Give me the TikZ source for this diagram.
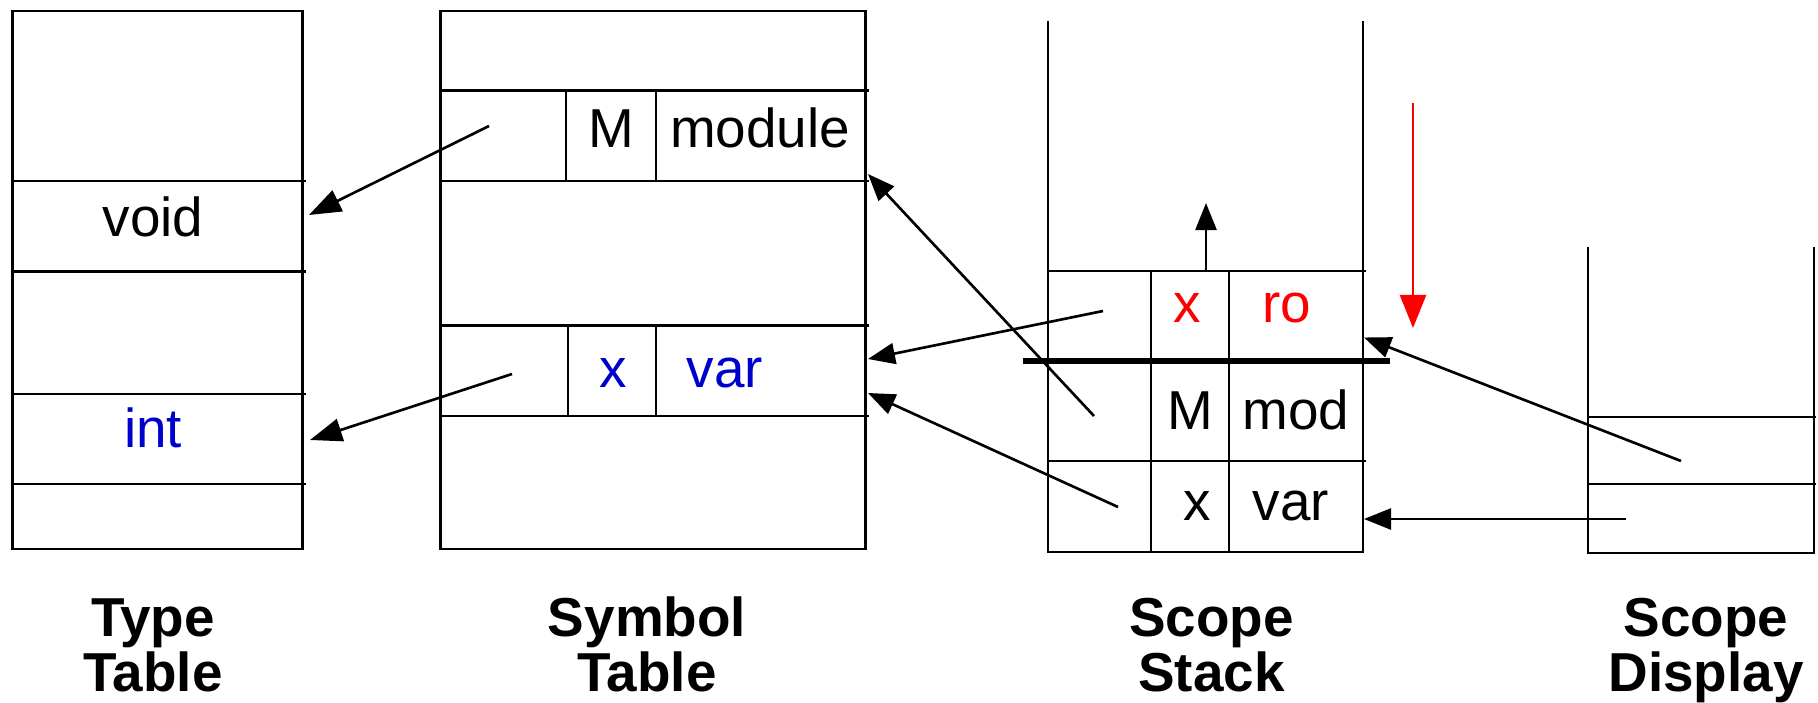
\documentclass[tikz,border=0pt]{standalone}
\usepackage{fontspec}
\setmainfont{Liberation Sans}
\usetikzlibrary{arrows.meta}
\definecolor{mblue}{RGB}{0,0,204}
\definecolor{mred}{RGB}{255,0,0}
\tikzset{
  tbl/.style={line width=0.65pt},
  thickbar/.style={line width=1.9pt},
  txt/.style={inner sep=0pt, anchor=base, font=\fontsize{15.6}{18.7}\selectfont},
  lbl/.style={inner sep=0pt, anchor=base, align=center, font=\bfseries\fontsize{15.6}{15.65}\selectfont},
  bigptr/.style={line width=0.75pt, -{Triangle[length=0.32cm,width=0.23cm]}},
  ptr/.style={line width=0.75pt, -{Triangle[length=0.27cm,width=0.21cm]}},
  redptr/.style={line width=0.65pt, mred, -{Triangle[length=0.33cm,width=0.26cm]}}
}
\begin{document}
\begin{tikzpicture}[x=0.01cm,y=-0.01cm]
\useasboundingbox (0,0) rectangle (1818,703);

% ---------- Type Table ----------
\draw[tbl] (12.5,10.7) rectangle (302.5,549);
\foreach \yy in {181,271.4,394,484} \draw[tbl] (12.5,\yy) -- (306,\yy);
\node[txt] (tvoid) at (153,236) {void};
\node[txt, text=mblue] (tint) at (153,447.5) {int};

% ---------- Symbol Table ----------
\draw[tbl] (440.5,10.7) rectangle (865.5,549);
\foreach \yy in {90.4,181,325.5,416} \draw[tbl] (440.5,\yy) -- (869,\yy);
\draw[tbl] (566,90.4) -- (566,181);
\draw[tbl] (656,90.4) -- (656,181);
\draw[tbl] (568,325.5) -- (568,416);
\draw[tbl] (656,325.5) -- (656,416);
\node[txt] (sM) at (611,147) {M};
\node[txt] (smodule) at (760,147) {module};
\node[txt, text=mblue] (sx) at (613,387.5) {x};
\node[txt, text=mblue] (svar) at (725,387.5) {var};

% ---------- Scope Stack ----------
\draw[tbl] (1048.3,21) -- (1048.3,552) -- (1363.3,552) -- (1363.3,21);
\draw[tbl] (1048.3,271) -- (1366,271);
\draw[tbl] (1048.3,461) -- (1366,461);
\draw[tbl] (1151.3,271) -- (1151.3,552);
\draw[tbl] (1229.3,271) -- (1229.3,552);
\draw[thickbar] (1022.7,361) -- (1390,361);
\node[txt, text=mred] (kx) at (1187,322.7) {x};
\node[txt, text=mred] (kro) at (1287,322.7) {ro};
\node[txt] (kM) at (1190,429) {M};
\node[txt] (kmod) at (1296,429) {mod};
\node[txt] (kx2) at (1197,520.7) {x};
\node[txt] (kvar) at (1291,520.7) {var};

% ---------- Scope Display ----------
\draw[tbl] (1588.3,247.3) -- (1588.3,552.7) -- (1814,552.7) -- (1814,247.3);
\draw[tbl] (1588.3,416.7) -- (1816,416.7);
\draw[tbl] (1588.3,484) -- (1816,484);

% ---------- connector end points ----------
\coordinate (s1) at (489,126);   \coordinate (e1) at (309,215);
\coordinate (s2) at (512,374);   \coordinate (e2) at (310,440);
\coordinate (s3) at (1103,311);  \coordinate (e3) at (868,359);
\coordinate (s4) at (1094,416);  \coordinate (e4) at (868,174);
\coordinate (s5) at (1118,507);  \coordinate (e5) at (868,393);
\coordinate (s6) at (1681,461);  \coordinate (e6) at (1364,337.5);
\coordinate (s7) at (1626,519);  \coordinate (e7) at (1364,519);
\coordinate (su) at (1206,271);  \coordinate (eu) at (1206,203);
\coordinate (sr) at (1413,103);  \coordinate (er) at (1413,328);

\draw[bigptr] (s1) -- (e1);
\draw[bigptr] (s2) -- (e2);
\draw[ptr] (s3) -- (e3);
\draw[ptr] (s4) -- (e4);
\draw[ptr] (s5) -- (e5);
\draw[ptr] (s6) -- (e6);
\draw[ptr] (s7) -- (e7);
\draw[ptr] (su) -- (eu);
\draw[redptr] (sr) -- (er);

% ---------- captions ----------
\node[lbl] (ltype) at (153,691.7) {Type\\Table};
\node[lbl] (lsym) at (647,691.7) {Symbol\\Table};
\node[lbl] (lstack) at (1211.5,691.7) {Scope\\Stack};
\node[lbl] (ldisp) at (1706,691.7) {Scope\\Display};
\end{tikzpicture}
\end{document}
